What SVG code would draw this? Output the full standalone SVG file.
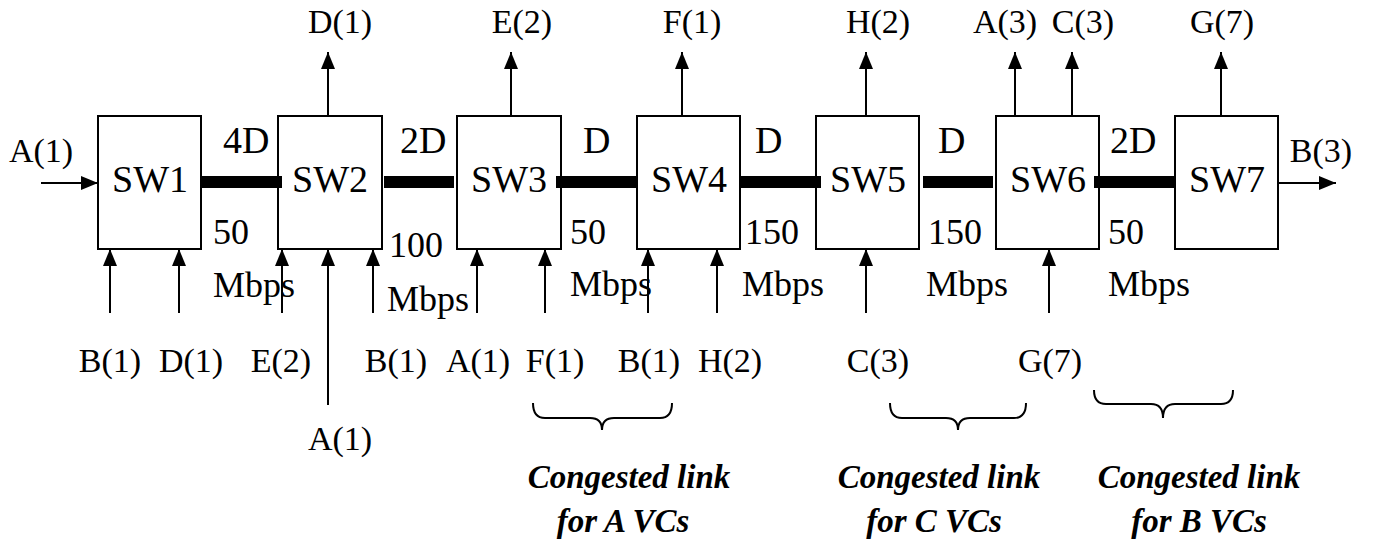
<svg xmlns="http://www.w3.org/2000/svg" width="1373" height="548" viewBox="0 0 1373 548">
<style>
.box{fill:#fff;stroke:#000;stroke-width:2}
.sw{font-family:"Liberation Serif","Times New Roman",serif;font-size:38px;text-anchor:middle;fill:#000}
.lbl{font-family:"Liberation Serif","Times New Roman",serif;font-size:34px;fill:#000}
.mid{text-anchor:middle}
.dl{font-family:"Liberation Serif","Times New Roman",serif;font-size:38px;fill:#000}
.rt{font-family:"Liberation Serif","Times New Roman",serif;font-size:36px;fill:#000}
.cg{font-family:"Liberation Serif","Times New Roman",serif;font-size:33px;font-weight:bold;font-style:italic;text-anchor:middle;fill:#000}
.ar{stroke:#000;stroke-width:2;fill:none;marker-end:url(#ah)}
.bar{fill:#000}
.br{stroke:#000;stroke-width:2;fill:none}
</style>
<defs>
<marker id="ah" markerUnits="userSpaceOnUse" markerWidth="17" markerHeight="14" refX="17" refY="7" orient="auto">
<path d="M0,0 L17,7 L0,14 z" fill="#000"/>
</marker>
</defs>
<rect width="1373" height="548" fill="#fff"/>
<g id="SW1"><rect class="box" x="98" y="116" width="103" height="133"/><text class="sw" x="150" y="192">SW1</text></g>
<g id="SW2"><rect class="box" x="278" y="116" width="104" height="133"/><text class="sw" x="330" y="192">SW2</text></g>
<g id="SW3"><rect class="box" x="457" y="116" width="104" height="133"/><text class="sw" x="509" y="192">SW3</text></g>
<g id="SW4"><rect class="box" x="637" y="116" width="103" height="133"/><text class="sw" x="689" y="192">SW4</text></g>
<g id="SW5"><rect class="box" x="816" y="116" width="103" height="133"/><text class="sw" x="868" y="192">SW5</text></g>
<g id="SW6"><rect class="box" x="996" y="116" width="103" height="133"/><text class="sw" x="1048" y="192">SW6</text></g>
<g id="SW7"><rect class="box" x="1175" y="116" width="103" height="133"/><text class="sw" x="1227" y="192">SW7</text></g>
<g id="connectors">
<rect class="bar" x="202" y="176" width="80" height="12"/>
<rect class="bar" x="384" y="176" width="70" height="12"/>
<rect class="bar" x="556" y="176" width="81" height="12"/>
<rect class="bar" x="740" y="176" width="81" height="12"/>
<rect class="bar" x="923" y="176" width="70" height="12"/>
<rect class="bar" x="1094" y="176" width="81" height="12"/>
<line class="ar" x1="41" y1="183" x2="98" y2="183"/>
<line class="ar" x1="1278" y1="183" x2="1336" y2="183"/>
<line class="ar" x1="328" y1="116" x2="328" y2="52"/>
<line class="ar" x1="511" y1="116" x2="511" y2="52"/>
<line class="ar" x1="682" y1="116" x2="682" y2="52"/>
<line class="ar" x1="866" y1="116" x2="866" y2="52"/>
<line class="ar" x1="1015" y1="116" x2="1015" y2="52"/>
<line class="ar" x1="1072" y1="116" x2="1072" y2="52"/>
<line class="ar" x1="1221" y1="116" x2="1221" y2="52"/>
<line class="ar" x1="110" y1="313" x2="110" y2="249"/>
<line class="ar" x1="179" y1="313" x2="179" y2="249"/>
<line class="ar" x1="282" y1="313" x2="282" y2="249"/>
<line class="ar" x1="328" y1="405" x2="328" y2="249"/>
<line class="ar" x1="373" y1="313" x2="373" y2="249"/>
<line class="ar" x1="477" y1="313" x2="477" y2="249"/>
<line class="ar" x1="545" y1="313" x2="545" y2="249"/>
<line class="ar" x1="648" y1="313" x2="648" y2="249"/>
<line class="ar" x1="717" y1="313" x2="717" y2="249"/>
<line class="ar" x1="866" y1="313" x2="866" y2="249"/>
<line class="ar" x1="1049" y1="313" x2="1049" y2="249"/>
</g>
<g id="labels">
<text class="lbl" x="41" y="162" text-anchor="middle">A(1)</text>
<text class="lbl" x="1321" y="162" text-anchor="middle">B(3)</text>
<text class="lbl mid" x="340" y="33">D(1)</text>
<text class="lbl mid" x="522" y="33">E(2)</text>
<text class="lbl mid" x="692" y="33">F(1)</text>
<text class="lbl mid" x="878" y="33">H(2)</text>
<text class="lbl mid" x="1005" y="33">A(3)</text>
<text class="lbl mid" x="1083" y="33">C(3)</text>
<text class="lbl mid" x="1222" y="33">G(7)</text>
<text class="dl" x="223" y="153">4D</text>
<text class="dl" x="400" y="153">2D</text>
<text class="dl" x="583" y="153">D</text>
<text class="dl" x="755" y="153">D</text>
<text class="dl" x="938" y="153">D</text>
<text class="dl" x="1110" y="153">2D</text>
<text class="rt" x="213" y="244">50</text>
<text class="rt" x="213" y="297">Mbps</text>
<text class="rt" x="389" y="257">100</text>
<text class="rt" x="387" y="311">Mbps</text>
<text class="rt" x="570" y="244">50</text>
<text class="rt" x="570" y="296">Mbps</text>
<text class="rt" x="745" y="244">150</text>
<text class="rt" x="742" y="296">Mbps</text>
<text class="rt" x="928" y="244">150</text>
<text class="rt" x="926" y="296">Mbps</text>
<text class="rt" x="1108" y="244">50</text>
<text class="rt" x="1108" y="296">Mbps</text>
<text class="lbl mid" x="110" y="372">B(1)</text>
<text class="lbl mid" x="191" y="372">D(1)</text>
<text class="lbl mid" x="281" y="372">E(2)</text>
<text class="lbl mid" x="396" y="372">B(1)</text>
<text class="lbl mid" x="340" y="450">A(1)</text>
<text class="lbl mid" x="478" y="372">A(1)</text>
<text class="lbl mid" x="555" y="372">F(1)</text>
<text class="lbl mid" x="649" y="372">B(1)</text>
<text class="lbl mid" x="730" y="372">H(2)</text>
<text class="lbl mid" x="878" y="372">C(3)</text>
<text class="lbl mid" x="1050" y="372">G(7)</text>
</g>
<g id="braces">
<path class="br" d="M533,403 Q533,418 545,418 L590,418 Q602,418 602,430 Q602,418 614,418 L660,418 Q672,418 672,403"/>
<path class="br" d="M890,403 Q890,418 902,418 L946,418 Q958,418 958,430 Q958,418 970,418 L1014,418 Q1026,418 1026,403"/>
<path class="br" d="M1094,390 Q1094,404 1106,404 L1151,404 Q1163,404 1163,418 Q1163,404 1175,404 L1221,404 Q1233,404 1233,390"/>
</g>
<g id="notes">
<text class="cg" x="629" y="488">Congested link</text>
<text class="cg" x="623" y="532">for A VCs</text>
<text class="cg" x="939" y="488">Congested link</text>
<text class="cg" x="934" y="532">for C VCs</text>
<text class="cg" x="1199" y="488">Congested link</text>
<text class="cg" x="1199" y="532">for B VCs</text>
</g>
</svg>
